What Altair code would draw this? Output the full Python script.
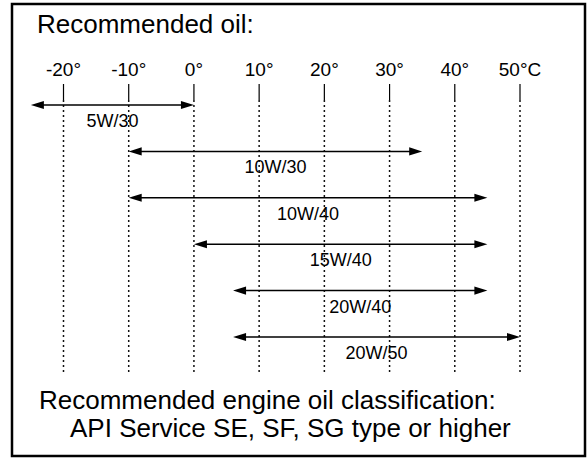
import altair as alt
import pandas as pd

# Oil grades and the ambient temperature span (°C) each one covers
grades = ["5W/30", "10W/30", "10W/40", "15W/40", "20W/40", "20W/50"]
temp_low = [-25, -10, -10, 0, 6, 6]
temp_high = [0, 35, 45, 45, 45, 50]

# Temperature scale across the top
tick_values = [-20, -10, 0, 10, 20, 30, 40, 50]
tick_labels = ["-20°", "-10°", "0°", "10°", "20°", "30°", "40°", "50°C"]

heading = "Recommended oil:"
footer_line1 = "Recommended engine oil classification:"
footer_line2 = "API Service SE, SF, SG type or higher"

FONT = "Liberation Sans"

oil = pd.DataFrame({"grade": grades, "low": temp_low, "high": temp_high})
ticks = pd.DataFrame({"temp": tick_values, "label": tick_labels})
one = pd.DataFrame({"k": [0]})

x_scale = alt.Scale(domain=[-29.737, 60.427], nice=False, zero=False)
y_scale = alt.Scale(type="point", domain=grades, range=[105, 337], padding=0)

X = lambda f: alt.X(f, type="quantitative", scale=x_scale, axis=None)
Y = alt.Y("grade:N", scale=y_scale, axis=None)

# arrowhead outlines, tip at the symbol origin
head_left = "M0,0L2,-0.62L2,0.62Z"
head_right = "M0,0L-2,-0.62L-2,0.62Z"

border = alt.Chart(one).mark_rect(
    fillOpacity=0, stroke="black", strokeWidth=2.5
).encode(x=alt.value(12), x2=alt.value(585), y=alt.value(4), y2=alt.value(456))

title = alt.Chart(one).mark_text(
    text=heading, align="left", baseline="alphabetic", fontSize=26, font=FONT, color="black"
).encode(x=alt.value(37), y=alt.value(33))

tick_text = alt.Chart(ticks).mark_text(
    fontSize=19, font=FONT, color="black", baseline="alphabetic"
).encode(x=X("temp"), y=alt.value(76), text="label:N")

tick_solid = alt.Chart(ticks).mark_rule(color="black", strokeWidth=1.2).encode(
    x=X("temp"), y=alt.value(84), y2=alt.value(100)
)

tick_dotted = alt.Chart(ticks).mark_rule(
    color="#111", strokeWidth=1.5, strokeDash=[2, 3]
).encode(x=X("temp"), y=alt.value(100), y2=alt.value(372))

shaft = alt.Chart(oil).mark_rule(
    color="black", strokeWidth=1.5, xOffset=8, x2Offset=-8
).encode(x=X("low"), x2="high:Q", y=Y)

left_head = alt.Chart(oil).mark_point(
    shape=head_left, size=169, filled=True, opacity=1, color="black", strokeWidth=0
).encode(x=X("low"), y=Y)

right_head = alt.Chart(oil).mark_point(
    shape=head_right, size=169, filled=True, opacity=1, color="black", strokeWidth=0
).encode(x=X("high"), y=Y)

grade_text = alt.Chart(oil).transform_calculate(
    mid="(datum.low + datum.high) / 2"
).mark_text(fontSize=18, font=FONT, color="black", dy=17).encode(
    x=X("mid"), y=Y, text="grade:N"
)

foot1 = alt.Chart(one).mark_text(
    text=footer_line1, align="left", baseline="alphabetic", fontSize=26, font=FONT, color="black"
).encode(x=alt.value(39), y=alt.value(409))

foot2 = alt.Chart(one).mark_text(
    text=footer_line2, align="left", baseline="alphabetic", fontSize=26, font=FONT, color="black"
).encode(x=alt.value(70), y=alt.value(437))

chart = alt.layer(
    border, title, tick_dotted, tick_solid, tick_text,
    shaft, left_head, right_head, grade_text, foot1, foot2
).properties(
    width=588, height=459, padding=0, autosize=alt.AutoSizeParams(type="none"),
    background="white"
).configure_view(stroke=None)

chart.save("out.html", embed_options={"renderer": "svg", "actions": False})
